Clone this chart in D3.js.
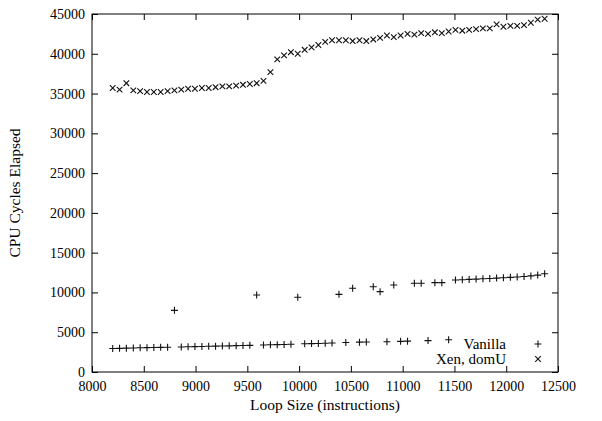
<!DOCTYPE html>
<html>
<head>
<meta charset="utf-8">
<script src="https://cdn.jsdelivr.net/npm/d3@7"></script>
<style>
  html, body { margin: 0; padding: 0; background: #fff; }
  svg text { font-family: "Liberation Serif", "Times New Roman", serif; fill: #000; }
</style>
</head>
<body>
<svg id="chart" width="602" height="421"></svg>
<script>
// Loop sizes (instructions) at which both kernels were measured
const loopSizes = [
  8200, 8266, 8332, 8399, 8465, 8531, 8597, 8663, 8730, 8796,
  8862, 8928, 8994, 9061, 9127, 9193, 9259, 9325, 9392, 9458,
  9524, 9590, 9656, 9723, 9789, 9855, 9921, 9987, 10054, 10120,
  10186, 10252, 10318, 10385, 10451, 10517, 10583, 10649, 10716, 10782,
  10848, 10914, 10980, 11047, 11113, 11179, 11245, 11311, 11378, 11444,
  11510, 11576, 11642, 11709, 11775, 11841, 11907, 11973, 12040, 12106,
  12172, 12238, 12304, 12371
];

// CPU cycles elapsed, native kernel
const vanilla = [
  2950, 2970, 3000, 3020, 3040, 3060, 3080, 3100, 3120, 7750,
  3150, 3170, 3190, 3210, 3230, 3250, 3270, 3290, 3310, 3330,
  3350, 9680, 3400, 3420, 3440, 3460, 3480, 9390, 3550, 3570,
  3590, 3610, 3640, 9760, 3700, 10520, 3750, 3780, 10720, 10100,
  3800, 10930, 3850, 3880, 11150, 11150, 3950, 11230, 11230, 4050,
  11560, 11600, 11640, 11680, 11720, 11760, 11800, 11850, 11900, 11950,
  12000, 12080, 12180, 12350
];

// CPU cycles elapsed, Xen guest domain
const xenDomU = [
  35700, 35500, 36300, 35400, 35300, 35200, 35200, 35200, 35300, 35400,
  35500, 35600, 35600, 35700, 35700, 35800, 35900, 35900, 36000, 36100,
  36200, 36300, 36600, 37700, 39300, 39800, 40200, 40000, 40500, 40800,
  41100, 41500, 41700, 41700, 41700, 41600, 41700, 41600, 41800, 42000,
  42300, 42100, 42300, 42500, 42400, 42600, 42500, 42700, 42600, 42800,
  43000, 42900, 43000, 43100, 43200, 43200, 43700, 43400, 43500, 43500,
  43600, 43900, 44300, 44400
];

const xTicks = [8000, 8500, 9000, 9500, 10000, 10500, 11000, 11500, 12000, 12500];
const yTicks = [0, 5000, 10000, 15000, 20000, 25000, 30000, 35000, 40000, 45000];
const seriesNames = ["Vanilla", "Xen, domU"];

const svg = d3.select("#chart");
const margin = { left: 92, right: 44, top: 14, bottom: 49 };
const W = 602, H = 421;
const x = d3.scaleLinear().domain([8000, 12500]).range([margin.left, W - margin.right]);
const y = d3.scaleLinear().domain([0, 45000]).range([H - margin.bottom, margin.top]);

const tickLen = 6;
const tickFont = 14;
const titleFont = 15.5;

// Axes with ticks pointing into the plot, mirrored on top/right
const gx = svg.append("g").attr("transform", `translate(0,${y(0)})`)
  .call(d3.axisBottom(x).tickValues(xTicks).tickFormat(d3.format("d")).tickSizeInner(-tickLen).tickSizeOuter(0).tickPadding(6));
const gxt = svg.append("g").attr("transform", `translate(0,${y(45000)})`)
  .call(d3.axisTop(x).tickValues(xTicks).tickFormat("").tickSizeInner(-tickLen).tickSizeOuter(0));
const gy = svg.append("g").attr("transform", `translate(${x(8000)},0)`)
  .call(d3.axisLeft(y).tickValues(yTicks).tickFormat(d3.format("d")).tickSizeInner(-tickLen).tickSizeOuter(0).tickPadding(7));
const gyr = svg.append("g").attr("transform", `translate(${x(12500)},0)`)
  .call(d3.axisRight(y).tickValues(yTicks).tickFormat("").tickSizeInner(-tickLen).tickSizeOuter(0));

[gx, gxt, gy, gyr].forEach(g => {
  g.select(".domain").remove();
  g.selectAll("line").attr("stroke", "#000").attr("stroke-width", 1);
  g.selectAll("text").style("font-size", tickFont + "px").attr("fill", "#000");
});
gx.selectAll("text").attr("dy", "0.9em");

// Plot frame
svg.append("rect")
  .attr("x", x(8000)).attr("y", y(45000))
  .attr("width", x(12500) - x(8000)).attr("height", y(0) - y(45000))
  .attr("fill", "none").attr("stroke", "#000").attr("stroke-width", 1);

// Axis titles
svg.append("text")
  .attr("x", (x(8000) + x(12500)) / 2).attr("y", 410)
  .attr("text-anchor", "middle").style("font-size", titleFont + "px")
  .text("Loop Size (instructions)");
svg.append("text")
  .attr("transform", `translate(20,${(y(0) + y(45000)) / 2}) rotate(-90)`)
  .attr("text-anchor", "middle").style("font-size", titleFont + "px")
  .text("CPU Cycles Elapsed");

// Point markers
const plusPath = s => `M${-s},0H${s}M0,${-s}V${s}`;
const crossPath = s => `M${-s},${-s}L${s},${s}M${-s},${s}L${s},${-s}`;
const markStroke = "#111";

svg.append("g").selectAll("path")
  .data(loopSizes.map((d, i) => [d, vanilla[i]]))
  .join("path")
  .attr("transform", d => `translate(${x(d[0])},${y(d[1])})`)
  .attr("d", plusPath(3.5))
  .attr("stroke", markStroke).attr("stroke-width", 1.1).attr("fill", "none");

svg.append("g").selectAll("path")
  .data(loopSizes.map((d, i) => [d, xenDomU[i]]))
  .join("path")
  .attr("transform", d => `translate(${x(d[0])},${y(d[1])})`)
  .attr("d", crossPath(2.8))
  .attr("stroke", markStroke).attr("stroke-width", 1.1).attr("fill", "none");

// Key
const legendTextX = 506, legendMarkX = 538;
const legend = svg.append("g");
seriesNames.forEach((name, i) => {
  const ly = 344 + i * 15;
  legend.append("text")
    .attr("x", legendTextX).attr("y", ly).attr("dy", "0.35em")
    .attr("text-anchor", "end").style("font-size", "15px")
    .text(name);
  legend.append("path")
    .attr("transform", `translate(${legendMarkX},${ly})`)
    .attr("d", i === 0 ? plusPath(3.5) : crossPath(2.8))
    .attr("stroke", markStroke).attr("stroke-width", 1.1).attr("fill", "none");
});
</script>
</body>
</html>
